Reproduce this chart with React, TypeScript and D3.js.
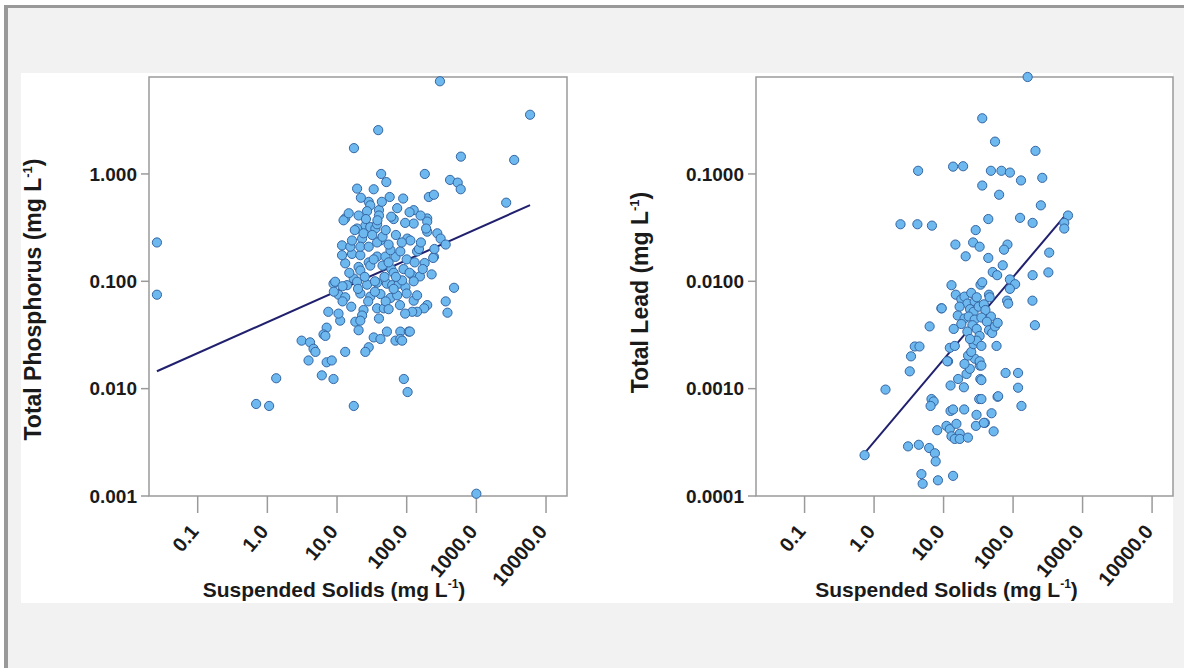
import React from "react";
import * as d3 from "d3";

// ---------- DATA ----------
const xTickValues = [0.1, 1, 10, 100, 1000, 10000];
const xTickLabels = ["0.1", "1.0", "10.0", "100.0", "1000.0", "10000.0"];

const phosTickValues = [0.001, 0.01, 0.1, 1];
const phosTickLabels = ["0.001", "0.010", "0.100", "1.000"];

const leadTickValues = [0.0001, 0.001, 0.01, 0.1];
const leadTickLabels = ["0.0001", "0.0010", "0.0100", "0.1000"];

// [suspended solids, total phosphorus]
const phosPoints: [number, number][] = [
  [0.026, 0.23], [0.026, 0.075],
  [0.69, 0.0072], [1.06, 0.0069], [1.34, 0.0125], [3.1, 0.028], [4.1, 0.027], [4.6, 0.0235], [4.9, 0.022],
  [3.9, 0.0183], [6.05, 0.0133], [8.9, 0.0123], [7.1, 0.0176], [8.4, 0.0183], [17.4, 0.0069], [91, 0.0123],
  [103, 0.0093], [13.1, 0.022], [7.5, 0.052], [11.1, 0.043], [10.5, 0.05], [7.1, 0.037], [6.4, 0.032],
  [6.8, 0.031], [18.3, 0.042], [20.4, 0.035], [28.5, 0.0243], [25.5, 0.022], [33.6, 0.03], [42, 0.029],
  [52, 0.034], [69, 0.028], [81, 0.034], [107, 0.034], [81, 0.029], [111, 0.034], [86, 0.028],
  [37.6, 0.056], [47, 0.056], [24, 0.054], [22.9, 0.048], [21.6, 0.043], [197, 0.06], [178, 0.056],
  [141, 0.052], [120, 0.052], [363, 0.065], [385, 0.051], [478, 0.087], [126, 0.066], [141, 0.074],
  [10.5, 0.075], [13.1, 0.071], [21.6, 0.077], [30, 0.072], [42, 0.076], [58.5, 0.07], [73, 0.074],
  [8.9, 0.095], [9.4, 0.099], [13.9, 0.092], [17.4, 0.106], [19.4, 0.099], [27, 0.093], [37.6, 0.097],
  [52, 0.095], [62, 0.092], [77, 0.095], [96, 0.088], [120, 0.114], [155, 0.111], [228, 0.116],
  [126, 0.1], [86, 0.102],
  [20.4, 0.136], [21.6, 0.126], [13.1, 0.147], [11.8, 0.175], [16.4, 0.18], [21.6, 0.175], [37.6, 0.17],
  [49.5, 0.17], [69, 0.169], [246, 0.169], [141, 0.19], [58.5, 0.195], [81, 0.19], [28.5, 0.15],
  [30, 0.14], [33.6, 0.16], [181, 0.148], [240, 0.165],
  [11.8, 0.216], [15.5, 0.21], [16.4, 0.24], [22.9, 0.25], [21.6, 0.21], [28.5, 0.21], [42, 0.24],
  [37.6, 0.23], [102, 0.25], [113, 0.24], [197, 0.29], [275, 0.28], [307, 0.25], [363, 0.22],
  [25.5, 0.33], [30, 0.32], [35.5, 0.31], [37.6, 0.34], [126, 0.345], [197, 0.385],
  [13.1, 0.385], [12.4, 0.37], [14.7, 0.43], [20.4, 0.41], [19.4, 0.31], [40, 0.46], [40, 0.41],
  [38, 0.37], [73, 0.48], [126, 0.46], [158, 0.41], [197, 0.36], [65, 0.38], [28.5, 0.55], [30, 0.51],
  [19.4, 0.73], [33.6, 0.72], [57, 0.61], [89, 0.59], [208, 0.61], [246, 0.64], [43, 1.0], [51, 0.84],
  [182, 1.0], [419, 0.88], [540, 0.83], [596, 0.72], [17.5, 1.74], [39, 2.56], [300, 7.3], [5900, 3.56],
  [600, 1.45], [3490, 1.35], [2680, 0.54], [1000, 0.00105],
  [18, 0.3], [24, 0.28], [27, 0.45], [32, 0.27], [45, 0.26], [50, 0.3], [55, 0.22], [60, 0.13],
  [65, 0.12], [48, 0.11], [35, 0.1], [25, 0.11], [15, 0.12], [12, 0.09], [45, 0.14], [55, 0.15],
  [70, 0.11], [90, 0.13], [100, 0.16], [110, 0.12], [130, 0.15], [150, 0.2], [170, 0.13], [85, 0.23],
  [95, 0.35], [70, 0.27], [60, 0.4], [22, 0.6], [26, 0.38], [44, 0.55], [110, 0.44], [160, 0.23],
  [190, 0.31], [250, 0.2], [20, 0.085], [28, 0.065], [35, 0.08], [50, 0.065], [65, 0.085], [100, 0.077],
  [12, 0.065], [9, 0.08], [16, 0.058], [40, 0.045], [55, 0.055], [80, 0.06], [95, 0.05],
];

// [suspended solids, total lead]
const leadPoints: [number, number][] = [
  [162, 0.8], [36, 0.33], [55, 0.2], [210, 0.164], [4.3, 0.107], [13.7, 0.117], [19.1, 0.118], [48, 0.107],
  [68, 0.107], [90, 0.103], [130, 0.087], [263, 0.092], [36, 0.078], [63, 0.064], [251, 0.051], [44, 0.038],
  [126, 0.039], [191, 0.035], [2.4, 0.034], [4.2, 0.034], [6.8, 0.033], [29, 0.03], [617, 0.041],
  [545, 0.035], [545, 0.031], [14.8, 0.022], [26.6, 0.023], [33, 0.021], [83, 0.022], [74, 0.0197],
  [20.8, 0.0171], [44, 0.0165], [331, 0.0185], [71, 0.0141], [51, 0.0122], [59, 0.0114], [191, 0.0114],
  [322, 0.0121], [90, 0.0104], [107, 0.0094], [90, 0.0085], [13, 0.0092], [34, 0.0093], [36, 0.0098],
  [190, 0.0066], [82, 0.0066], [85, 0.0062], [9.3, 0.0056], [45, 0.0075], [48, 0.0047],
  [15, 0.0075], [18, 0.0068], [20, 0.0072], [22, 0.0062], [25, 0.0078], [28, 0.0065], [30, 0.0071],
  [17, 0.0058], [24, 0.0055], [27, 0.0052], [32, 0.0058], [38, 0.0061], [40, 0.0054], [16, 0.0048],
  [20, 0.0045], [23, 0.0047], [28, 0.0044], [35, 0.0046], [42, 0.0042], [18, 0.004], [26, 0.0039],
  [30, 0.0036], [22, 0.0034], [33, 0.0031], [45, 0.0035], [50, 0.0033], [55, 0.0038], [14, 0.0036],
  [60, 0.0041],
  [0.73, 0.00024], [1.46, 0.00098], [3.26, 0.00145], [3.4, 0.002], [3.85, 0.00247], [4.5, 0.00247],
  [6.3, 0.0038], [9.4, 0.0056], [3.08, 0.00029], [4.4, 0.0003], [6.2, 0.00028], [7.5, 0.00025],
  [7.7, 0.00021], [4.8, 0.00016], [5.0, 0.00013], [8.3, 0.00014], [13.7, 0.000154], [11.6, 0.0018],
  [6.7, 0.0008], [7.2, 0.00076], [6.5, 0.00069], [12.6, 0.00107], [16.2, 0.00123], [19.6, 0.00103],
  [21.4, 0.00137], [23.9, 0.00153], [28.2, 0.0019], [33.2, 0.00164], [22.5, 0.00203], [33.8, 0.00123],
  [12.6, 0.00062], [13.7, 0.00064], [19.8, 0.00064], [8.1, 0.00041], [11, 0.00045], [12.3, 0.00042],
  [15.3, 0.00047], [17.1, 0.00038], [13, 0.00036], [14.5, 0.00034], [17.1, 0.00034], [22.4, 0.00035],
  [29.8, 0.00057], [39.3, 0.00048], [49, 0.00059], [29.2, 0.00045], [52.5, 0.0004], [32.6, 0.0008],
  [59.8, 0.00084], [78, 0.0014], [118, 0.0014], [118, 0.00102], [132, 0.00069], [57.8, 0.0025],
  [206, 0.0039], [12.3, 0.0024], [14.5, 0.0025], [11.3, 0.0018],
  [25, 0.0022], [27, 0.0026], [30, 0.0028], [35, 0.0025], [24, 0.0029], [20, 0.0017],
  [33, 0.0018], [35, 0.00164], [35, 0.0012], [35, 0.0008], [38, 0.00048], [61, 0.00085], [46, 0.0071],
];

// regression fits: log10(y) = intercept + slope * log10(x)
const phosFit = [-1.38, 0.289];
const leadFit = [-3.495, 0.767];

// ---------- LAYOUT ----------
const W = 1184;
const H = 668;
const FONT = "'Liberation Sans', Arial, Helvetica, sans-serif";
const POINT_FILL = "#6db8ee";
const POINT_STROKE = "#3566a3";
const LINE_COLOR = "#20206e";
const AXIS_COLOR = "#9a9a9a";
const TEXT_COLOR = "#1a1a1a";

type PanelProps = {
  left: number;
  right: number;
  top: number;
  bottom: number;
  yDomain: [number, number];
  yTicks: number[];
  yLabels: string[];
  points: [number, number][];
  fit: number[];
  yTitle: string;
  yTitleX: number;
  yTitleShift: number;
  xTitleShift: number;
};

function Panel(p: PanelProps) {
  const x = d3.scaleLog().domain([0.02, 20000]).range([p.left, p.right]);
  const y = d3.scaleLog().domain(p.yDomain).range([p.bottom, p.top]);
  const xs = p.points.map((d) => d[0]);
  const xMin = d3.min(xs) as number;
  const xMax = d3.max(xs) as number;
  const fitY = (v: number) => Math.pow(10, p.fit[0] + p.fit[1] * Math.log10(v));
  const lineGen = d3
    .line<number>()
    .x((v) => x(v))
    .y((v) => y(fitY(v)));
  const cx = (p.left + p.right) / 2 + p.xTitleShift;
  const cy = (p.top + p.bottom) / 2 + p.yTitleShift;
  return (
    <g>
      <rect
        x={p.left}
        y={p.top}
        width={p.right - p.left}
        height={p.bottom - p.top}
        fill="#ffffff"
        stroke={AXIS_COLOR}
        strokeWidth={1.5}
      />
      {p.yTicks.map((t, i) => (
        <g key={"yt" + i}>
          <line x1={p.left - 8} x2={p.left} y1={y(t)} y2={y(t)} stroke={AXIS_COLOR} strokeWidth={1.5} />
          <text
            x={p.left - 12}
            y={y(t)}
            dy="0.36em"
            textAnchor="end"
            fontFamily={FONT}
            fontWeight="bold"
            fontSize={19}
            fill={TEXT_COLOR}
          >
            {p.yLabels[i]}
          </text>
        </g>
      ))}
      {xTickValues.map((t, i) => (
        <g key={"xt" + i}>
          <line x1={x(t)} x2={x(t)} y1={p.bottom} y2={p.bottom + 17} stroke={AXIS_COLOR} strokeWidth={1.5} />
          <text
            transform={`translate(${x(t) + 2},${p.bottom + 36}) rotate(-50)`}
            textAnchor="end"
            fontFamily={FONT}
            fontWeight="bold"
            fontSize={20}
            fill={TEXT_COLOR}
          >
            {xTickLabels[i]}
          </text>
        </g>
      ))}
      <path d={lineGen([xMin, xMax]) || ""} fill="none" stroke={LINE_COLOR} strokeWidth={2} />
      {p.points.map((d, i) => (
        <circle
          key={"pt" + i}
          cx={x(d[0])}
          cy={y(d[1])}
          r={4.6}
          fill={POINT_FILL}
          stroke={POINT_STROKE}
          strokeWidth={1}
        />
      ))}
      <text
        x={cx}
        y={p.bottom + 101}
        textAnchor="middle"
        fontFamily={FONT}
        fontWeight="bold"
        fontSize={21}
        fill={TEXT_COLOR}
      >
        Suspended Solids (mg L<tspan dy={-9} fontSize={12}>-1</tspan>
        <tspan dy={9}>)</tspan>
      </text>
      <text
        transform={`translate(${p.yTitleX},${cy}) rotate(-90)`}
        textAnchor="middle"
        fontFamily={FONT}
        fontWeight="bold"
        fontSize={23}
        fill={TEXT_COLOR}
      >
        {p.yTitle} (mg L<tspan dy={-9} fontSize={13}>-1</tspan>
        <tspan dy={9}>)</tspan>
      </text>
    </g>
  );
}

export default function App() {
  return (
    <svg
      width={W}
      height={H}
      viewBox={`0 0 ${W} ${H}`}
      style={{ position: "absolute", left: 0, top: 0, display: "block" }}
    >
      <rect x={0} y={0} width={W} height={H} fill="#ffffff" />
      <rect x={4} y={5} width={W - 4} height={H - 5} fill="#f2f2f2" />
      <rect x={4} y={5} width={W - 4} height={3} fill="#999999" />
      <rect x={4} y={5} width={4} height={H - 5} fill="#999999" />
      <rect x={21} y={73} width={1152} height={530} fill="#ffffff" />
      <Panel
        left={149}
        right={567}
        top={77}
        bottom={496}
        yDomain={[0.001, 8]}
        yTicks={phosTickValues}
        yLabels={phosTickLabels}
        points={phosPoints}
        fit={phosFit}
        yTitle="Total Phosphorus"
        yTitleX={41}
        yTitleShift={13}
        xTitleShift={-24}
      />
      <Panel
        left={756}
        right={1173}
        top={77}
        bottom={496}
        yDomain={[0.0001, 0.8]}
        yTicks={leadTickValues}
        yLabels={leadTickLabels}
        points={leadPoints}
        fit={leadFit}
        yTitle="Total Lead"
        yTitleX={648}
        yTitleShift={6}
        xTitleShift={-18}
      />
    </svg>
  );
}
